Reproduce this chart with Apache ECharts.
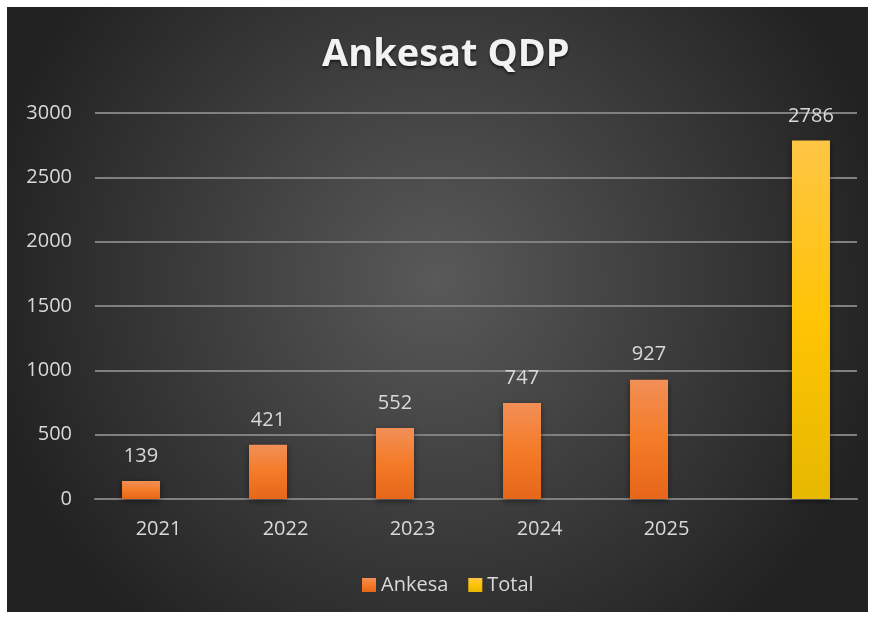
<!DOCTYPE html>
<html>
<head>
<meta charset="utf-8">
<script src="https://cdn.jsdelivr.net/npm/echarts@6/dist/echarts.min.js"></script>
<style>
html, body { margin: 0; padding: 0; background: #ffffff; }
#container1 { position: absolute; left: 7px; top: 7px; width: 861px; height: 605px; }
</style>
</head>
<body>
<div id="container1"></div>
<script>
var years = ['2021', '2022', '2023', '2024', '2025', ''];
var ankesa = [139, 421, 552, 747, 927, null];
var total = [null, null, null, null, null, 2786];
var yTicks = [0, 500, 1000, 1500, 2000, 2500, 3000];

var dom = document.getElementById("container1");
var myChart = echarts.init(dom);
var font = 'Open Sans';
var txt = '#d9d9d9';

var option = {
    backgroundColor: {
        type: 'radial', x: 0.5, y: 0.45, r: 0.75,
        colorStops: [
            {offset: 0, color: '#595959'},
            {offset: 1, color: '#222222'}
        ]
    },
    title: {
        text: 'Ankesat QDP',
        left: 310,
        top: 24,
        textStyle: {
            color: '#f2f2f2', fontFamily: font, fontWeight: 'bold', fontSize: 38,
            textShadowColor: 'rgba(0,0,0,0.6)', textShadowBlur: 3, textShadowOffsetY: 2
        }
    },
    legend: {
        data: ['Ankesa', 'Total'],
        bottom: 12,
        left: 350,
        icon: 'rect',
        itemWidth: 14,
        itemHeight: 14,
        itemGap: 20,
        textStyle: {color: txt, fontFamily: font, fontSize: 20}
    },
    grid: {left: 88, right: 11, top: 106, bottom: 113},
    xAxis: {
        type: 'category',
        data: years,
        axisLine: {lineStyle: {color: '#808080', width: 2}},
        axisTick: {show: false},
        axisLabel: {color: txt, fontFamily: font, fontSize: 20, margin: 20}
    },
    yAxis: {
        type: 'value',
        min: yTicks[0],
        max: yTicks[yTicks.length - 1],
        interval: 500,
        axisLine: {show: false},
        axisTick: {show: false},
        splitLine: {lineStyle: {color: '#808080', width: 2}},
        axisLabel: {
            color: txt, fontFamily: font, fontSize: 20, margin: 23,
            formatter: function (v) { return String(v); }
        }
    },
    series: [
        {
            name: 'Ankesa',
            type: 'bar',
            data: ankesa,
            barWidth: 38,
            barGap: '-8%',
            itemStyle: {
                color: new echarts.graphic.LinearGradient(0, 0, 0, 1, [
                    {offset: 0, color: '#F28F57'},
                    {offset: 0.5, color: '#F47B27'},
                    {offset: 1, color: '#E6661A'}
                ]),
                shadowColor: 'rgba(0,0,0,0.5)', shadowBlur: 6, shadowOffsetY: 2
            },
            label: {show: true, position: 'top', distance: 15, color: txt, fontFamily: font, fontSize: 20}
        },
        {
            name: 'Total',
            type: 'bar',
            data: total,
            barWidth: 38,
            itemStyle: {
                color: new echarts.graphic.LinearGradient(0, 0, 0, 1, [
                    {offset: 0, color: '#FFC545'},
                    {offset: 0.5, color: '#FFC404'},
                    {offset: 1, color: '#E6B800'}
                ]),
                shadowColor: 'rgba(0,0,0,0.5)', shadowBlur: 6, shadowOffsetY: 2
            },
            label: {show: true, position: 'top', distance: 14, color: txt, fontFamily: font, fontSize: 20}
        }
    ]
};
myChart.setOption(option, true);
</script>
</body>
</html>
